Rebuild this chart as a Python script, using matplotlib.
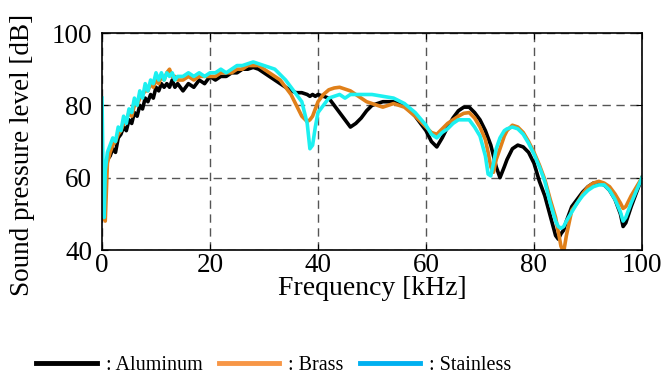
import matplotlib
matplotlib.use("Agg")
import matplotlib.pyplot as plt
from matplotlib.lines import Line2D

# frequency grid [kHz]
freq = [0, 0.2, 0.4, 0.6, 1.0, 1.5, 2.0, 2.5, 3.0, 3.5, 4.0, 4.5, 5.0, 5.5,
        6.0, 6.5, 7.0, 7.5, 8.0, 8.5, 9.0, 9.5, 10.0, 10.5, 11.0, 11.5,
        12.0, 12.5, 13.0, 13.5, 14.0, 15.0, 16.0, 17.0, 18.0, 19.0, 20.0,
        21, 22, 23, 24, 25, 26, 27, 28, 29, 30, 31, 32, 33, 34, 35, 36, 37,
        38, 38.5, 39, 39.5, 40, 41, 42, 43, 44, 45, 46, 47, 48, 49, 50, 52,
        54, 56, 58, 60, 61, 62, 63, 64, 65, 66, 67, 68, 69, 70, 71, 71.5,
        72, 72.5, 73, 73.7, 74.5, 75, 76, 77, 78, 79, 80, 81, 82, 83, 84,
        84.5, 85, 85.5, 86, 87, 88, 89, 90, 91, 92, 93, 94, 95, 96, 96.5,
        97, 98, 99, 100]

aluminum = [57, 54, 60, 63, 65, 66, 68, 67, 71, 72, 74, 73, 76, 75,
            78, 77, 80, 79, 82, 81, 83, 82, 85, 84, 86, 85,
            86, 85, 87, 85, 86, 84, 86, 85, 87, 86, 88,
            87, 88, 88, 89, 89, 90, 90, 90.5, 90, 89, 88, 87, 86, 85, 84, 83.5, 83.5,
            83, 82.5, 83, 82.5, 83, 82.5, 82, 80, 78, 76, 74, 75, 76.5, 78.5, 80, 81,
            81, 80, 77, 73, 70, 68.5, 71, 74, 76.5, 78.5, 79.5, 79.5, 78, 76, 73, 71,
            69, 66, 63, 60, 63, 65, 68, 69, 68.5, 67, 64, 59, 55, 49.5, 44,
            43, 44.5, 45.5, 48, 52, 54, 56, 57.5, 58.5, 58.5, 58, 56.5, 54, 50, 46.5,
            47.5, 52, 56, 60]

brass = [55, 52, 50, 48, 64, 67, 69, 70, 72, 73, 75, 76, 78, 77,
         80, 80, 82, 83, 84, 84, 86, 85, 87, 86, 88, 87,
         89, 90, 88, 88, 87, 87, 88, 87, 88, 88, 88,
         88, 89, 89, 89, 90, 90, 91, 91, 91, 90, 89, 88, 87, 85, 83, 80, 77,
         75.5, 76, 77, 79, 81, 83, 84.3, 84.8, 85, 84.5, 84, 83, 82, 81, 80.5, 79.5,
         80.5, 79.5, 77, 74, 72.5, 72, 73.5, 75, 76, 77, 77.8, 78, 76.5, 74, 70.5, 67,
         63, 61.5, 65, 68, 71.5, 73, 74.5, 74, 72.5, 70, 67, 63.5, 59.5, 54, 49,
         45, 41, 39.5, 44, 51, 53, 55.5, 57.5, 58.5, 59, 58.5, 57.5, 55.5, 53, 51.5,
         52, 55, 57.5, 60]

stainless = [82, 60, 49, 62, 67, 69, 71, 70, 74, 73, 77, 75, 79, 78,
             82, 80, 84, 82, 86, 84, 87, 86, 89, 87, 89, 87,
             89, 88, 89, 87, 88, 88, 89, 88, 89, 88, 89,
             89, 90, 89, 90, 91, 91, 91.5, 92, 91.5, 91, 90.5, 90, 88.5, 87, 85, 83, 81,
             75, 68, 69, 74, 78, 80, 82, 82.5, 83, 82, 83, 83, 83, 83, 83, 82.5,
             82, 80.5, 78, 74.5, 72, 71, 72.5, 73.5, 75, 76, 76, 76, 74, 71.5, 66, 61,
             60.5, 64, 68, 71, 73, 73.5, 74, 73.5, 72, 69.5, 66.5, 63, 59, 53, 48,
             46.5, 46, 46.5, 48, 50.5, 53, 55, 56.5, 57.5, 58, 58, 56.5, 54, 50.5, 48,
             49, 53, 56.5, 60]

assert len(freq) == len(aluminum) == len(brass) == len(stainless)

series = [
    (aluminum, "#000000", "#000000", ": Aluminum"),
    (brass, "#E0801A", "#F79646", ": Brass"),
    (stainless, "#1CF0F0", "#00B0F0", ": Stainless"),
]

plt.rcParams["font.family"] = ["Liberation Serif", "DejaVu Serif"]

fig = plt.figure(figsize=(6.65, 3.76), dpi=100)
ax = fig.add_axes([0.1534, 0.3351, 0.812, 0.5771])

handles = []
for vals, col, leg_col, lab in series:
    ax.plot(freq, vals, color=col, lw=2.6, solid_joinstyle="round")
    handles.append(Line2D([], [], color=leg_col, lw=3.5, label=lab))

ax.set_xlim(0, 100)
ax.set_ylim(40, 100)
ax.set_xticks([0, 20, 40, 60, 80, 100])
ax.set_yticks([40, 60, 80, 100])
ax.grid(True, color="#555555", linestyle=(0, (6, 4)), linewidth=1.0)
ax.tick_params(direction="in", top=True, right=True, labelsize=19.5, length=4)
ax.tick_params(axis="y", pad=7)
ax.tick_params(axis="x", pad=2)
for sp in ax.spines.values():
    sp.set_linewidth(1.2)

ax.set_xlabel("Frequency [kHz]", fontsize=20, labelpad=-1)
ax.set_ylabel("Sound pressure level [dB]", fontsize=19.5)
ax.yaxis.set_label_coords(-0.124, 0.44)

fig.legend(handles=handles, loc="lower center", bbox_to_anchor=(0.412, -0.045), ncol=3,
           frameon=False, fontsize=14.5, handlelength=3.0, handletextpad=0.45,
           columnspacing=0.8)

fig.savefig("out.png", dpi=100)
